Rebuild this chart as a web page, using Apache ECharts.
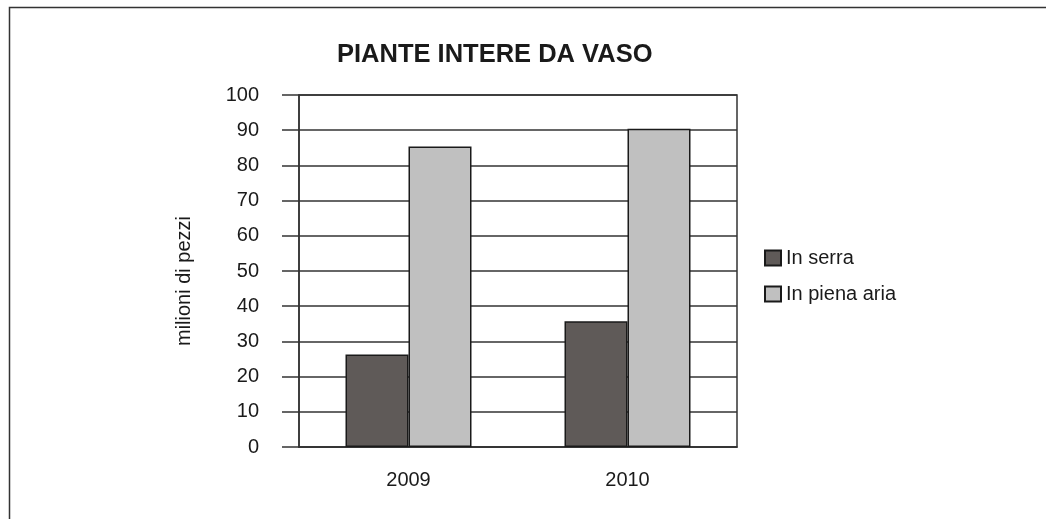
<!DOCTYPE html>
<html>
<head>
<meta charset="utf-8">
<script src="https://cdn.jsdelivr.net/npm/echarts@6/dist/echarts.min.js"></script>
<style>
  html, body { margin: 0; padding: 0; background: #fff; }
  #chart { width: 1046px; height: 519px; }
</style>
</head>
<body>
<div id="chart"></div>
<script>
// dati
const years = ['2009', '2010'];
const inSerra = [26.3, 35.7];
const inPienaAria = [85.4, 90.4];
const seriesNames = ['In serra', 'In piena aria'];

const FONT = 'Liberation Sans, Arial, sans-serif';
const LINE = '#333333';

const chart = echarts.init(document.getElementById('chart'));

const barStyle = (color) => ({
  color: color,
  borderColor: '#1a1a1a',
  borderWidth: 1.5,
});

chart.setOption({
  animation: false,
  title: {
    text: 'PIANTE INTERE DA VASO',
    left: 337,
    top: 42,
    padding: 0,
    textStyle: {
      fontFamily: FONT,
      fontSize: 25.5,
      fontWeight: 'bold',
      color: '#1a1a1a',
    },
  },
  legend: {
    orient: 'vertical',
    left: 764,
    top: 248,
    padding: 0,
    itemWidth: 16,
    itemHeight: 15,
    itemGap: 16,
    icon: 'rect',
    textStyle: {
      fontFamily: FONT,
      fontSize: 20,
      color: '#1a1a1a',
    },
    data: seriesNames,
  },
  grid: {
    left: 299,
    right: 309,
    top: 95,
    bottom: 72,
    show: true,
    borderColor: LINE,
    borderWidth: 1.5,
  },
  xAxis: {
    type: 'category',
    data: years,
    axisLine: { lineStyle: { color: LINE, width: 1.5 } },
    axisTick: { show: false },
    axisLabel: {
      fontFamily: FONT,
      fontSize: 20,
      color: '#1a1a1a',
      margin: 23,
    },
  },
  yAxis: {
    type: 'value',
    min: 0,
    max: 100,
    interval: 10,
    axisLine: { show: true, lineStyle: { color: LINE, width: 1.5 } },
    axisTick: { show: true, length: 17, lineStyle: { color: LINE, width: 1.5 } },
    axisLabel: {
      fontFamily: FONT,
      fontSize: 20,
      color: '#1a1a1a',
      margin: 40,
    },
    splitLine: { lineStyle: { color: LINE, width: 1.5 } },
  },
  series: [
    {
      name: seriesNames[0],
      type: 'bar',
      data: inSerra,
      barWidth: 63,
      barGap: '0%',
      itemStyle: barStyle('#5f5a58'),
    },
    {
      name: seriesNames[1],
      type: 'bar',
      data: inPienaAria,
      barWidth: 63,
      barGap: '0%',
      itemStyle: barStyle('#c0c0c0'),
    },
  ],
  graphic: [
    {
      type: 'text',
      x: 184,
      y: 281,
      rotation: Math.PI / 2,
      style: {
        text: 'milioni di pezzi',
        fontFamily: FONT,
        fontSize: 20,
        fill: '#1a1a1a',
        align: 'center',
        verticalAlign: 'middle',
      },
    },
    {
      type: 'polyline',
      shape: { points: [[9.5, 519], [9.5, 7.5], [1046, 7.5]] },
      style: { stroke: LINE, lineWidth: 1.5, fill: null },
    },
  ],
});
</script>
</body>
</html>
